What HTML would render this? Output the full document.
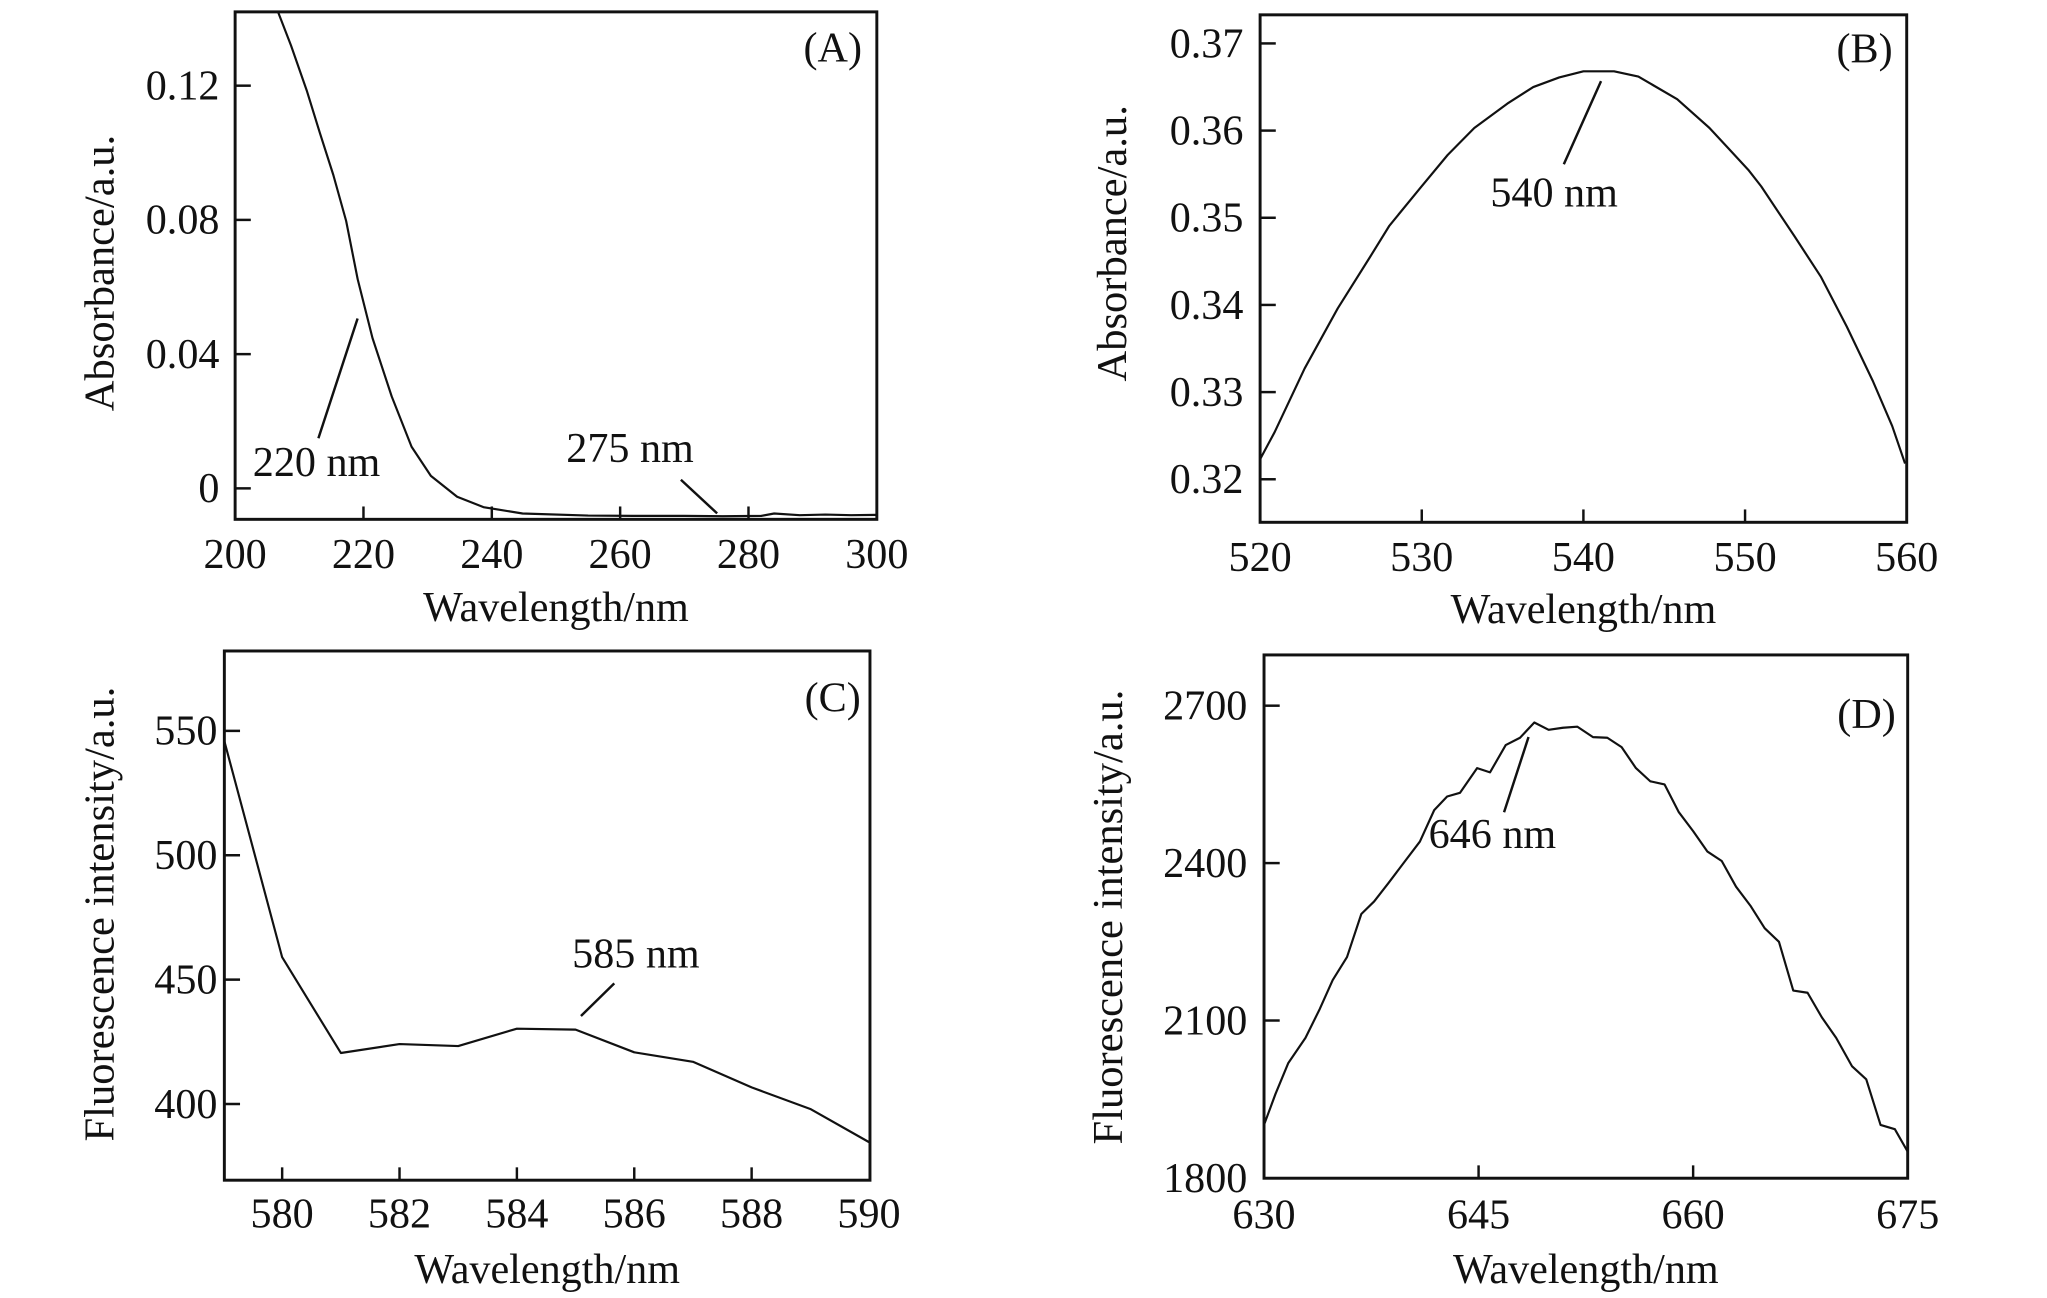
<!DOCTYPE html>
<html><head><meta charset="utf-8"><style>
html,body{margin:0;padding:0;background:#fff;}
svg{display:block;}
text{font-family:"Liberation Serif",serif;font-size:43px;fill:#111;}
</style></head><body>
<svg id="fig" width="2047" height="1298" viewBox="0 0 2047 1298" xmlns="http://www.w3.org/2000/svg"></svg>
<script>
// ---- Panel A data ----
const aWavelengths = [206.4,208.7,211.2,213.2,215.3,217.3,219.1,221.4,224.4,227.5,230.5,234.6,238.7,244.8,255,262,270,276,282,284,288,292,296,300];
const aAbsorbance = [0.1434,0.132,0.1183,0.1059,0.0934,0.0797,0.0623,0.0448,0.0274,0.0124,0.0037,-0.0025,-0.0056,-0.0075,-0.0081,-0.0082,-0.0082,-0.0083,-0.0082,-0.0075,-0.0080,-0.0078,-0.0080,-0.0079];
const aXTicks = [200,220,240,260,280,300];
const aYTicks = [0,0.04,0.08,0.12];
const aYTickLabels = ["0","0.04","0.08","0.12"];
// ---- Panel B data ----
const bWavelengths = [520,520.9,522.75,524.8,526.8,528,529.9,531.6,533.25,535.3,536.9,538.5,540,541.9,543.4,545.8,547.8,549,550.2,551,553.05,554.7,556.3,557.9,559.1,559.9];
const bAbsorbance = [0.3223,0.3254,0.3327,0.3396,0.3455,0.3491,0.3534,0.3572,0.3603,0.3631,0.3650,0.3661,0.3668,0.3668,0.3662,0.3636,0.3603,0.3579,0.3555,0.3536,0.3479,0.3432,0.3375,0.3313,0.3261,0.3218];
const bXTicks = [520,530,540,550,560];
const bYTicks = [0.32,0.33,0.34,0.35,0.36,0.37];
const bYTickLabels = ["0.32","0.33","0.34","0.35","0.36","0.37"];
// ---- Panel C data ----
const cWavelengths = [579,580,581,582,583,584,585,586,587,588,589,590];
const cIntensity = [547.2,459,420.5,424.1,423.3,430.3,429.9,420.8,417,406.7,398,384.7];
const cXTicks = [580,582,584,586,588,590];
const cYTicks = [400,450,500,550];
const cYTickLabels = ["400","450","500","550"];
// ---- Panel D data ----
const dWavelengths = [630,630.8,631.7,632.9,633.9,634.8,635.8,636.8,637.7,638.7,639.7,640.9,641.9,642.8,643.7,644.9,645.8,646.9,647.9,648.9,649.9,650.9,651.9,653,654,655,656,657,658,659,660,661,662,663,664,665,666,667,668,669,670,671.1,672.1,673.1,674.1,675];
const dIntensity = [1901,1960,2019,2067,2122,2177,2221,2303,2327,2362,2398,2441,2501,2527,2534,2581,2573,2625,2639,2668,2654,2658,2660,2640,2639,2621,2581,2556,2550,2497,2461,2422,2404,2355,2319,2276,2250,2157,2153,2106,2067,2013,1988,1901,1893,1850];
const dXTicks = [630,645,660,675];
const dYTicks = [1800,2100,2400,2700];
const dYTickLabels = ["1800","2100","2400","2700"];

const NS = "http://www.w3.org/2000/svg";
const svg = document.getElementById('fig');
function mk(tag, attrs, parent, txt){
  const e = document.createElementNS(NS, tag);
  for (const k in attrs) e.setAttribute(k, attrs[k]);
  if (txt !== undefined) e.textContent = txt;
  (parent||svg).appendChild(e);
  return e;
}
function lin(d0,d1,r0,r1){ return v => r0 + (v-d0)*(r1-r0)/(d1-d0); }
const SX = 0.9797, SY = 0.9892;

function panel(cfg){
  const ox = cfg.origin[0], oy = cfg.origin[1];
  const g = mk('g', {transform:'translate('+ox+','+oy+') scale('+SX+','+SY+') translate('+(-ox)+','+(-oy)+')'});
  
  
  const x = lin(cfg.xd[0], cfg.xd[1], cfg.xr[0], cfg.xr[1]);
  const y = lin(cfg.yd[0], cfg.yd[1], cfg.yr[0], cfg.yr[1]);
  const L = cfg.frame[0], T = cfg.frame[1], R = cfg.frame[2], B = cfg.frame[3];
  const cid = cfg.name + '-clip';
  const cp = mk('clipPath', {id: cid}, g);
  mk('rect', {x:L, y:T, width:R-L, height:B-T}, cp);
  let d = '';
  cfg.xs.forEach((v,i)=>{ d += (i?'L':'M') + x(v).toFixed(1) + ' ' + y(cfg.ys[i]).toFixed(1) + ' '; });
  const p = mk('path', {d:d, fill:'none', stroke:'#111', 'stroke-width':2.2, 'stroke-linejoin':'round', 'clip-path':'url(#'+cid+')'}, g);
  
  
  const fr = mk('rect', {x:L, y:T, width:R-L, height:B-T, fill:'none', stroke:'#111', 'stroke-width':3}, g);
  
  
  cfg.xt.forEach(v=>{
    const px = x(v);
    if (px > L+3 && px < R-3) mk('line', {x1:px, y1:B, x2:px, y2:B-13, stroke:'#111', 'stroke-width':2.5}, g);
    const t = mk('text', {x:px, y:cfg.xlabY, 'text-anchor':'middle'}, g, String(v));
    
    
  });
  cfg.yt.forEach((v,i)=>{
    const py = y(v);
    if (py > T+3 && py < B-3) mk('line', {x1:L, y1:py, x2:L+16, y2:py, stroke:'#111', 'stroke-width':2.5}, g);
    const t = mk('text', {x:cfg.ylabX, y:py+14, 'text-anchor':'end'}, g, cfg.ytl[i]);
    
    
  });
  const xt = mk('text', {x:(L+R)/2, y:cfg.xtitleY, 'text-anchor':'middle'}, g, 'Wavelength/nm');
  
  
  const yt = mk('text', {x:0, y:0, 'text-anchor':'middle', transform:'translate('+cfg.ytitle[0]+','+cfg.ytitle[1]+') rotate(-90)'}, g, cfg.ytitleText);
  
  
  const pl = mk('text', {x:cfg.plabel[0], y:cfg.plabel[1], 'text-anchor':'middle'}, g, cfg.plabelText);
  
  
  cfg.ann.forEach(a=>{
    const ln = mk('line', {x1:a.l[0], y1:a.l[1], x2:a.l[2], y2:a.l[3], stroke:'#111', 'stroke-width':2.5}, g);
    
    
    const at = mk('text', {x:a.t[0], y:a.t[1]}, g, a.text);
    
    
  });
}

panel({name:'panel-a', origin:[0,0], xs:aWavelengths, ys:aAbsorbance, xd:[200,300], xr:[240,895], yd:[0,0.12], yr:[493.7,86.6],
  frame:[240,12,895,525], xt:aXTicks, yt:aYTicks, ytl:aYTickLabels, xlabY:574, ylabX:224, xtitleY:628,
  ytitle:[116,276], ytitleText:'Absorbance/a.u.', plabel:[850,62], plabelText:'(A)',
  ann:[{l:[325,443,365,322], t:[258,481], text:'220 nm'},{l:[695,485,732,519], t:[578,467], text:'275 nm'}]});
panel({name:'panel-b', origin:[1024,0], xs:bWavelengths, ys:bAbsorbance, xd:[520,560], xr:[1265,1925], yd:[0.32,0.37], yr:[484.5,43.9],
  frame:[1265,15,1925,528], xt:bXTicks, yt:bYTicks, ytl:bYTickLabels, xlabY:577, ylabX:1248, xtitleY:630,
  ytitle:[1128,246], ytitleText:'Absorbance/a.u.', plabel:[1882,63], plabelText:'(B)',
  ann:[{l:[1575,166,1613,82], t:[1500,209], text:'540 nm'}]});
panel({name:'panel-c', origin:[0,649], xs:cWavelengths, ys:cIntensity, xd:[580,590], xr:[288,887], yd:[400,550], yr:[1109,731.8],
  frame:[229,651,888,1186], xt:cXTicks, yt:cYTicks, ytl:cYTickLabels, xlabY:1234, ylabX:222, xtitleY:1290,
  ytitle:[116,917], ytitleText:'Fluorescence intensity/a.u.', plabel:[850,712], plabelText:'(C)',
  ann:[{l:[627,987,593,1020], t:[584,971], text:'585 nm'}]});
panel({name:'panel-d', origin:[1024,649], xs:dWavelengths, ys:dIntensity, xd:[630,675], xr:[1269,1926], yd:[1800,2700], yr:[1183.7,706.3],
  frame:[1269,655,1926,1184], xt:dXTicks, yt:dYTicks, ytl:dYTickLabels, xlabY:1235, ylabX:1252, xtitleY:1290,
  ytitle:[1124,920], ytitleText:'Fluorescence intensity/a.u.', plabel:[1884,729], plabelText:'(D)',
  ann:[{l:[1514,814,1539,738], t:[1437,850], text:'646 nm'}]});
</script>
</body></html>
